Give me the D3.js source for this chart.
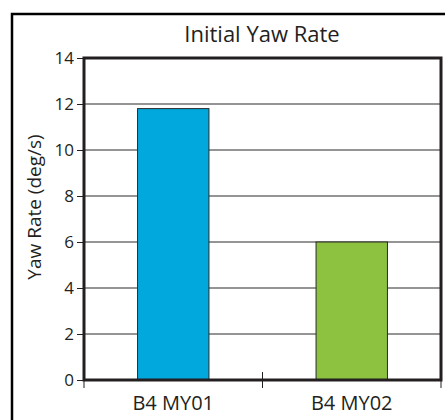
<!DOCTYPE html>
<html>
<head>
<meta charset="utf-8">
<script src="https://cdn.jsdelivr.net/npm/d3@7"></script>
<style>
  body { margin: 0; background: #fff; }
  svg { display: block; }
  text { font-family: "Open Sans", "DejaVu Sans", sans-serif; fill: #231f20; }
</style>
</head>
<body>
<svg id="chart" width="445" height="420"></svg>
<script>
// chart data
const categories = ["B4 MY01", "B4 MY02"];
const yawRates = [11.8, 6.0];
const barColors = ["#00a8de", "#8cc23f"];
const yTicks = [0, 2, 4, 6, 8, 10, 12, 14];

const svg = d3.select("#chart");
const plotLeft = 84, plotRight = 441, plotTop = 58, plotBottom = 380;

// outer frame (runs off the right and bottom edges)
svg.append("path")
  .attr("d", "M12,440 L12,14 L460,14")
  .attr("fill", "none")
  .attr("stroke", "#000")
  .attr("stroke-width", 2.5);

const x = d3.scaleBand()
  .domain(categories)
  .range([plotLeft, plotRight])
  .paddingInner(0.6)
  .paddingOuter(0.3);

const y = d3.scaleLinear()
  .domain([0, 14])
  .range([plotBottom, plotTop]);

// gridlines
svg.append("g")
  .selectAll("line")
  .data(yTicks.filter(d => d > 0 && d < 14))
  .enter()
  .append("line")
    .attr("x1", plotLeft).attr("x2", plotRight)
    .attr("y1", d => y(d)).attr("y2", d => y(d))
    .attr("stroke", "#2b2b2b")
    .attr("stroke-width", 1);

// bars
svg.append("g")
  .selectAll("rect")
  .data(yawRates)
  .enter()
  .append("rect")
    .attr("x", (d, i) => x(categories[i]))
    .attr("y", d => y(d))
    .attr("width", x.bandwidth())
    .attr("height", d => y(0) - y(d))
    .attr("fill", (d, i) => barColors[i])
    .attr("stroke", "#2a2a2a")
    .attr("stroke-width", 1);

// plot frame
svg.append("rect")
  .attr("x", plotLeft).attr("y", plotTop)
  .attr("width", plotRight - plotLeft).attr("height", plotBottom - plotTop)
  .attr("fill", "none")
  .attr("stroke", "#231f20")
  .attr("stroke-width", 3);

// y axis
const yAxis = svg.append("g")
  .attr("transform", `translate(${plotLeft},0)`)
  .call(d3.axisLeft(y).tickValues(yTicks).tickSize(7).tickPadding(3));
yAxis.select(".domain").remove();
yAxis.selectAll(".tick line").attr("stroke", "#231f20");
yAxis.selectAll(".tick text")
  .style("font-size", "17px")
  .style("font-family", "'Open Sans', 'DejaVu Sans', sans-serif")
  .attr("fill", "#231f20");

// x axis category separators
const xTickPos = [x.range()[0], (x.range()[0] + x.range()[1]) / 2, x.range()[1]];
svg.append("g")
  .selectAll("line")
  .data(xTickPos)
  .enter()
  .append("line")
    .attr("x1", d => d).attr("x2", d => d)
    .attr("y1", (d, i) => i === 1 ? plotBottom - 8 : plotBottom)
    .attr("y2", plotBottom + 8)
    .attr("stroke", "#231f20")
    .attr("stroke-width", 1);

// category labels
svg.append("g")
  .selectAll("text")
  .data(categories)
  .enter()
  .append("text")
    .attr("x", d => x(d) + x.bandwidth() / 2)
    .attr("y", 410)
    .attr("text-anchor", "middle")
    .style("font-size", "20px")
    .text(d => d);

// title
svg.append("text")
  .attr("x", 262)
  .attr("y", 42)
  .attr("text-anchor", "middle")
  .style("font-size", "22px")
  .text("Initial Yaw Rate");

// y label
svg.append("text")
  .attr("transform", "translate(41,207) rotate(-90)")
  .attr("text-anchor", "middle")
  .style("font-size", "19px")
  .text("Yaw Rate (deg/s)");
</script>
</body>
</html>
